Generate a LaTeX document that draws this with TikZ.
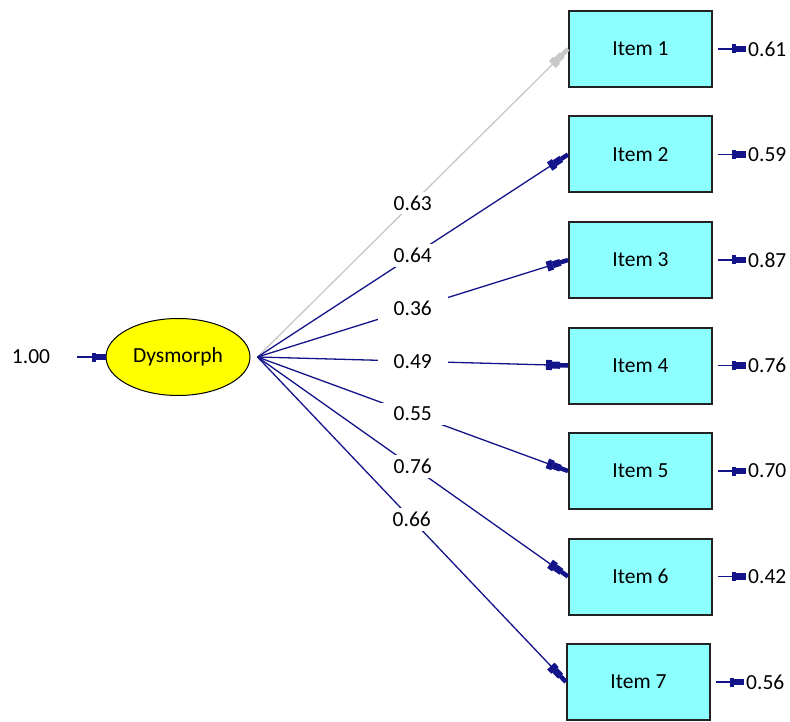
\documentclass[tikz,border=0pt]{standalone}
\usepackage{fontspec}
\setmainfont{Carlito}
\usepackage{tikz}
\usetikzlibrary{arrows.meta,shapes.geometric,positioning}
\definecolor{navyline}{HTML}{14148A}
\definecolor{fadedline}{HTML}{C8C8C8}
\definecolor{latfill}{HTML}{FFFF00}
\definecolor{obsfill}{HTML}{8CFFFF}
\definecolor{obsline}{HTML}{222222}
\tikzset{
  lat/.style={ellipse, draw=black, line width=1pt, fill=latfill, minimum width=144pt, minimum height=77pt, inner sep=0pt, font=\fontsize{21.5}{25}\selectfont},
  obs/.style={rectangle, draw=obsline, line width=2pt, fill=obsfill, minimum width=143pt, minimum height=76pt, inner sep=0pt, font=\fontsize{21.5}{25}\selectfont},
  ld/.style={fill=white, inner xsep=16pt, inner ysep=4pt, font=\fontsize{21.5}{25}\selectfont},
  num/.style={inner sep=2pt, font=\fontsize{21.5}{25}\selectfont},
  pth/.style={draw=navyline, line width=1.3pt, -{Rectangle[length=6pt,width=10pt,sep=0pt]Rectangle[length=8pt,width=7pt,sep=0pt]Rectangle[length=8pt,width=4.5pt]}},
  err/.style={draw=navyline, line width=1.8pt, -{Rectangle[length=4pt,width=9pt,sep=0pt]Rectangle[length=10pt,width=6.5pt]}}
}
\begin{document}
\begin{tikzpicture}[x=1pt,y=-1pt]
\useasboundingbox (0,0) rectangle (790,722);
% latent
\node[lat] (dys) at (178,357) {Dysmorph};
\coordinate (src) at ([xshift=7pt]dys.east);
\node[num] (v) at (31,357) {1.00};
\coordinate (v0) at (77,357);
\draw[err] (v0) -- (dys.west);

% items
\node[obs] (it1) at (640.5,49) {Item 1};
\node[obs] (it2) at (640.5,154.5) {Item 2};
\node[obs] (it3) at (640.5,260) {Item 3};
\node[obs] (it4) at (640.5,365.5) {Item 4};
\node[obs] (it5) at (640.5,471) {Item 5};
\node[obs] (it6) at (640.5,576.5) {Item 6};
\node[obs] (it7) at (638.5,682) {Item 7};

% loadings
\draw[pth, draw=fadedline] (src) -- node[ld] (l1) {0.63} (it1.west);
\draw[pth] (src) -- node[ld] (l2) {0.64} (it2.west);
\draw[pth] (src) -- node[ld] (l3) {0.36} (it3.west);
\draw[pth] (src) -- node[ld] (l4) {0.49} (it4.west);
\draw[pth] (src) -- node[ld] (l5) {0.55} (it5.west);
\draw[pth] (src) -- node[ld] (l6) {0.76} (it6.west);
\draw[pth] (src) -- node[ld] (l7) {0.66} (it7.west);

% errors
\node[num, anchor=west] (r1) at ([xshift=33pt]it1.east) {0.61};
\node[num, anchor=west] (r2) at ([xshift=33pt]it2.east) {0.59};
\node[num, anchor=west] (r3) at ([xshift=33pt]it3.east) {0.87};
\node[num, anchor=west] (r4) at ([xshift=33pt]it4.east) {0.76};
\node[num, anchor=west] (r5) at ([xshift=33pt]it5.east) {0.70};
\node[num, anchor=west] (r6) at ([xshift=33pt]it6.east) {0.42};
\node[num, anchor=west] (r7) at ([xshift=33pt]it7.east) {0.56};
\coordinate (e1) at ([xshift=5pt]it1.east);
\coordinate (e2) at ([xshift=5pt]it2.east);
\coordinate (e3) at ([xshift=5pt]it3.east);
\coordinate (e4) at ([xshift=5pt]it4.east);
\coordinate (e5) at ([xshift=5pt]it5.east);
\coordinate (e6) at ([xshift=5pt]it6.east);
\coordinate (e7) at ([xshift=5pt]it7.east);
\draw[err] (e1) -- (r1.west);
\draw[err] (e2) -- (r2.west);
\draw[err] (e3) -- (r3.west);
\draw[err] (e4) -- (r4.west);
\draw[err] (e5) -- (r5.west);
\draw[err] (e6) -- (r6.west);
\draw[err] (e7) -- (r7.west);
\end{tikzpicture}
\end{document}
